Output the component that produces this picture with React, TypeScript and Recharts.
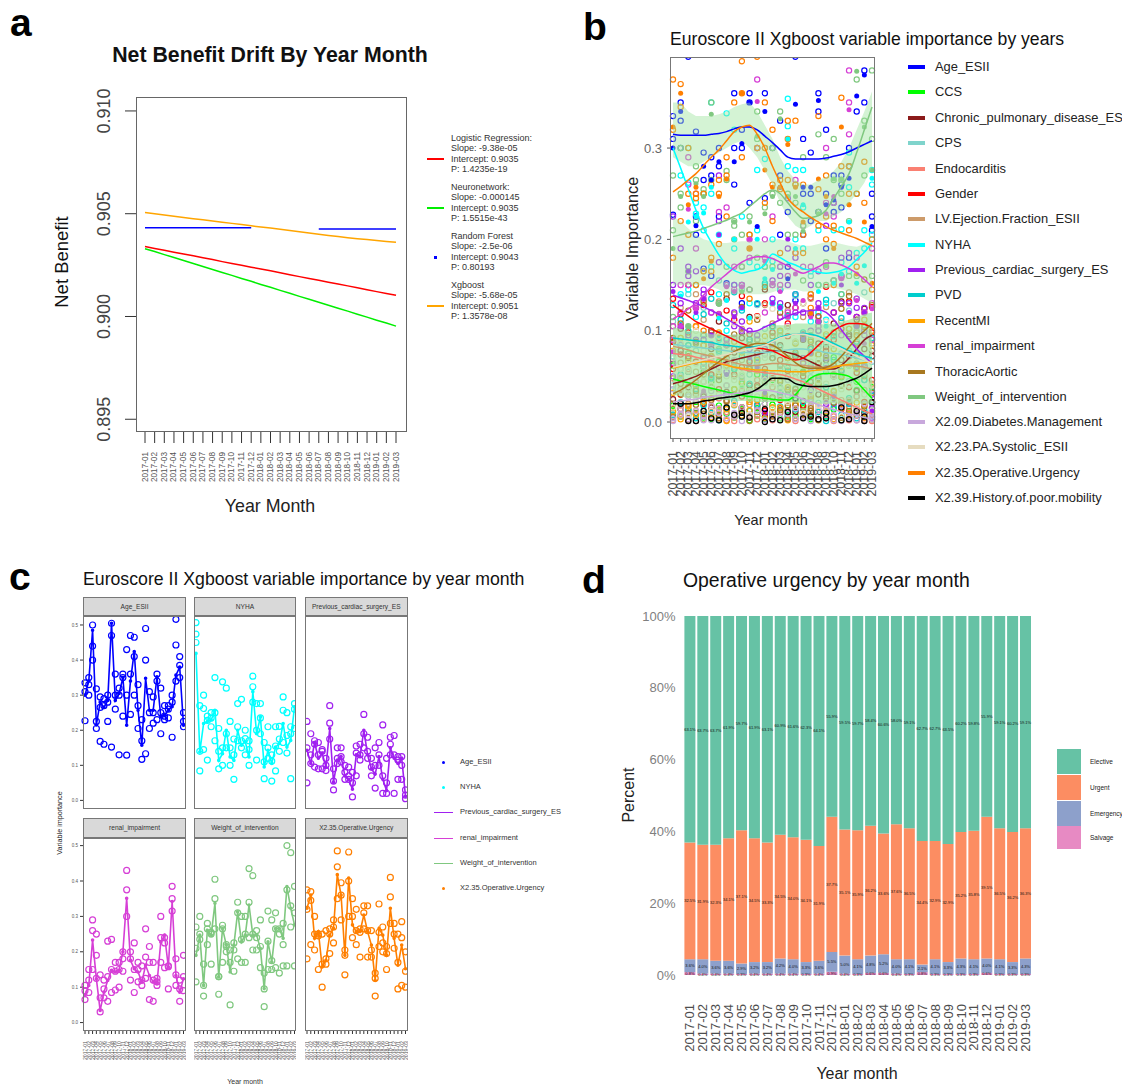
import React from "react";
import { LineChart, Line, XAxis, YAxis, ComposedChart, Area, BarChart, Bar, LabelList } from "recharts";

const FONT = '"Liberation Sans", Arial, sans-serif';
const months = ["2017-01","2017-02","2017-03","2017-04","2017-05","2017-06","2017-07","2017-08","2017-09","2017-10","2017-11","2017-12","2018-01","2018-02","2018-03","2018-04","2018-05","2018-06","2018-07","2018-08","2018-09","2018-10","2018-11","2018-12","2019-01","2019-02","2019-03"];

// ---------- panel a
const logistic = [0.9034,0.90331,0.90322,0.90313,0.90304,0.90295,0.90286,0.90277,0.90267,0.90258,0.90249,0.9024,0.90231,0.90222,0.90213,0.90203,0.90194,0.90185,0.90176,0.90167,0.90158,0.90149,0.9014,0.9013,0.90121,0.90112,0.90103];
const neuro = [0.9033,0.90316,0.90301,0.90287,0.90272,0.90258,0.90243,0.90229,0.90214,0.902,0.90185,0.90171,0.90156,0.90142,0.90127,0.90113,0.90098,0.90084,0.90069,0.90055,0.9004,0.90026,0.90011,0.89997,0.89982,0.89968,0.89953];
const forest1 = [0.90432,0.90432,0.90432,0.90432,0.90432,0.90432,0.90432,0.90432,0.90432,0.90432,0.90432,0.90432,null,null,null,null,null,null,null,null,null,null,null,null,null,null,null];
const forest2 = [null,null,null,null,null,null,null,null,null,null,null,null,null,null,null,null,null,null,0.90426,0.90426,0.90426,0.90426,0.90426,0.90426,0.90426,0.90426,0.90426];
const xgb = [0.90506,0.905,0.90494,0.90488,0.90482,0.90476,0.90471,0.90465,0.90459,0.90453,0.90447,0.90441,0.90435,0.9043,0.90424,0.90418,0.90412,0.90406,0.904,0.90394,0.90389,0.90383,0.90378,0.90374,0.9037,0.90365,0.90361];
const aTicks = [0.895, 0.9, 0.905, 0.91];
const aLegend = [
  ["Logistic Regression:","Slope: -9.38e-05","Intercept: 0.9035","P: 1.4235e-19"],
  ["Neuronetwork:","Slope: -0.000145","Intercept: 0.9035","P: 1.5515e-43"],
  ["Random Forest","Slope: -2.5e-06","Intercept: 0.9043","P: 0.80193"],
  ["Xgboost","Slope: -5.68e-05","Intercept: 0.9051","P: 1.3578e-08"],
];
const aColors = ["#ff0000", "#00ee00", "#0000ff", "#ffa500"];

const ageMean = [300,340,485,215,280,265,285,505,285,305,350,214,340,424,257,157,348,257,257,352,238,243,257,267,357,380,214];
const ageHi = [335,350,500,318,295,290,300,505,360,320,360,430,470,465,330,230,490,310,295,360,320,270,270,300,516,410,250];
const ageMid = [310,330,440,225,265,270,280,470,300,300,350,300,360,410,270,170,400,250,250,340,250,240,260,280,443,385,225];
const ageLo = [227,300,400,205,168,160,225,152,260,130,240,129,245,300,205,117,133,205,220,230,190,230,235,180,340,350,210];
const nyhaMean = [419,138,219,225,229,257,114,133,200,124,114,200,157,167,124,310,190,238,95,143,105,152,162,219,152,171,267];
const nyhaHi = [507,270,300,240,250,350,205,338,320,225,175,276,288,200,170,354,276,276,165,210,130,210,211,295,250,210,276];
const nyhaMid = [474,140,262,228,235,250,140,150,190,150,130,210,170,176,145,324,200,235,110,150,112,155,175,257,185,190,260];
const nyhaLo = [450,84,145,115,210,170,90,100,150,100,60,170,150,130,100,280,115,190,62,120,55,84,140,165,135,62,205];
const prevMean = [143,105,165,120,135,95,205,52,115,125,70,60,32,130,125,200,130,90,75,125,60,28,150,120,105,120,12];
const prevHi = [225,190,170,165,145,120,270,90,150,150,100,95,80,155,160,245,180,120,150,165,215,120,180,185,125,125,30];
const prevMid = [150,130,160,130,140,100,220,55,120,125,80,70,50,135,130,190,140,95,100,130,70,50,160,130,115,100,15];
const prevLo = [50,105,95,90,90,85,175,30,105,110,60,60,10,70,115,150,120,70,35,100,20,20,130,20,60,60,5];
const renalMean = [77,105,233,124,34,86,119,148,143,148,200,351,176,152,143,115,162,133,115,110,228,247,157,342,133,86,124];
const renalHi = [105,150,290,250,135,120,230,235,170,170,200,430,200,225,170,160,265,215,170,115,300,240,158,385,180,120,190];
const renalMid = [90,120,260,190,70,95,130,150,145,150,180,375,180,150,150,120,185,170,120,125,240,225,160,350,135,95,130];
const renalLo = [65,85,150,125,30,70,60,85,92,100,145,300,120,85,115,105,125,65,60,105,170,155,95,315,105,60,90];
const weightMean = [190,247,105,261,247,337,129,266,219,143,219,313,228,247,332,247,247,209,96,228,171,266,266,238,384,323,276];
const weightHi = [270,300,165,280,255,405,130,275,220,205,225,340,300,300,435,415,260,290,140,315,290,310,250,280,500,480,385];
const weightMid = [210,250,105,265,250,350,130,265,215,170,205,310,235,250,340,250,240,215,95,230,175,265,265,220,375,330,310];
const weightLo = [115,235,75,220,165,265,80,170,200,50,145,180,170,170,240,205,205,155,45,150,150,155,140,160,160,270,160];
const opMean = [323,360,238,257,157,176,247,266,418,360,190,408,276,257,257,304,257,219,119,266,247,190,323,238,162,219,152];
const opHi = [375,370,300,250,250,260,265,290,485,395,205,482,350,320,265,330,330,260,140,335,270,215,410,280,250,285,200];
const opMid = [320,345,250,245,165,180,250,270,440,360,190,400,300,260,255,310,260,205,125,255,225,195,355,250,170,240,145];
const opLo = [180,220,205,150,100,165,195,225,350,290,135,300,240,220,185,265,185,185,75,215,200,150,280,210,95,105,100];

const ccsA = [12,30,8,22,5,44,18,9,36,14,26,7,20,11,33,6,24,15,8,41,10,28,5,17,35,9,22];
const ccsB = [62,48,75,40,55,38,66,30,58,42,35,52,28,46,37,60,72,55,80,64,58,71,49,62,44,53,38];
const ccsC = [18,6,14,10,20,3,8,16,5,12,2,15,9,19,4,13,7,17,3,11,6,14,2,9,16,5,12];
const chrA = [25,14,38,9,28,16,7,33,20,12,40,18,6,27,15,35,11,23,8,30,13,26,19,5,34,10,21];
const chrB = [88,102,70,125,95,80,110,135,76,98,115,90,145,105,84,128,72,96,118,86,68,108,132,94,112,124,78];
const chrC = [64,78,55,88,60,72,50,84,66,92,58,76,48,86,62,70,54,90,44,74,82,52,68,96,60,80,72];
const cpsA = [40,22,55,31,12,47,26,60,18,35,52,24,43,16,58,29,37,13,49,21,62,33,17,45,28,54,19];
const cpsB = [110,92,140,78,125,98,155,84,118,145,88,128,102,150,82,115,138,95,160,105,86,130,75,122,100,142,90];
const cpsC = [72,58,84,66,96,50,76,92,60,80,68,90,54,74,98,62,86,70,56,82,94,64,52,78,88,46,66];
const endoA = [6,18,3,12,25,8,15,2,21,10,5,17,28,7,13,4,19,9,24,3,14,6,20,2,11,5,8];
const endoB = [48,36,58,30,44,52,26,40,62,34,22,46,55,38,28,50,33,42,25,36,18,30,24,15,28,20,12];
const endoC = [2,9,14,1,7,18,4,11,1,16,8,3,13,2,10,17,1,6,12,3,8,1,5,10,2,4,1];
const genA = [58,30,72,44,20,62,36,15,52,28,66,40,12,48,24,56,32,18,44,60,26,50,14,38,54,22,46];
const genB = [135,118,150,105,128,142,96,122,112,138,90,116,130,98,145,108,125,92,136,110,148,120,102,132,115,104,126];
const genC = [88,74,98,66,84,52,92,70,80,60,96,76,58,86,68,94,72,50,82,64,78,90,56,72,86,62,98];
const lvA = [48,65,30,55,72,38,60,24,50,68,34,58,44,26,62,36,54,70,28,46,32,52,40,22,64,35,42];
const lvB = [105,125,92,140,112,98,132,85,118,102,145,90,128,108,95,122,88,115,135,100,126,94,110,142,98,120,86];
const lvC = [15,6,20,9,3,17,11,22,5,13,19,7,2,16,10,21,4,12,18,8,14,3,19,6,11,2,15];
const pvdA = [70,52,84,36,64,48,78,28,58,72,42,66,54,86,32,60,74,44,80,50,38,68,56,26,62,46,34];
const pvdB = [128,112,100,150,118,135,96,108,142,122,90,130,152,104,126,116,140,98,120,110,134,94,114,102,88,106,92];
const pvdC = [8,21,13,4,18,10,2,15,23,6,12,19,3,9,17,7,14,22,5,11,1,16,8,20,4,13,6];
const recA = [32,48,18,40,60,26,52,14,36,44,22,56,30,16,46,38,20,54,28,42,12,34,50,24,58,18,40];
const recB = [78,92,66,105,84,72,98,62,88,76,110,68,94,82,100,70,86,64,90,74,96,80,60,102,72,112,84];
const recC = [11,3,17,8,22,5,14,1,19,7,13,24,4,10,16,2,20,9,6,18,12,3,15,8,21,5,10];
const thorA = [20,42,10,34,52,24,46,66,30,16,58,38,26,70,44,18,36,54,12,48,28,62,40,22,74,50,32];
const thorB = [92,108,122,86,132,100,118,140,96,126,84,112,148,94,120,104,76,130,88,116,72,98,124,138,106,156,128];
const thorC = [5,14,2,19,9,12,4,23,7,16,1,11,20,6,13,3,18,8,15,2,10,21,5,12,7,17,3];
const x209A = [4,14,8,24,2,18,10,28,6,16,32,12,20,3,26,9,15,5,22,7,13,2,17,4,11,1,6];
const x209B = [36,50,28,44,60,34,56,40,68,48,30,62,74,52,38,46,26,42,32,36,22,28,18,24,14,20,10];
const x209C = [1,8,3,12,6,2,15,4,10,1,7,13,2,9,5,11,3,6,1,14,4,8,1,5,2,7,3];
const x223A = [16,34,6,26,44,12,30,50,20,38,8,28,46,14,36,22,54,10,32,18,42,24,6,40,16,30,12];
const x223B = [70,86,56,100,78,66,94,60,108,82,72,115,90,124,76,104,88,130,98,68,110,84,74,64,92,58,80];
const x223C = [44,58,36,64,50,40,56,68,46,52,34,60,70,42,54,62,48,38,66,44,58,50,36,62,46,54,40];
const x239A = [null,null,1,null,null,4,null,null,8,null,5,null,null,3,null,11,null,null,6,null,4,null,null,3,null,6,null];
const x239B = [null,20,null,null,12,null,null,16,null,10,null,null,14,null,null,null,26,null,null,null,10,null,16,null,12,null,22];
const x239C = [null,null,null,1,null,null,2,null,null,6,null,null,0,null,2,null,null,4,null,3,null,null,2,null,null,1,null];

const ageSmooth = [315,314,314,314,314,315,316,318,321,323,323,320,313,306,298,290,288,288,288,288,289,291,293,296,300,304,308];
const ccsSmooth = [47,45,43,41,39,37,35,33,31,29,28,27,26,25,24,24,30,40,48,52,53,53,52,50,44,35,26];
const chrSmooth = [42,44,47,50,54,58,62,66,68,70,72,74,76,78,78,76,74,70,66,62,58,58,62,70,80,90,95];
const cpsSmooth = [85,84,83,82,81,80,79,78,77,76,76,76,76,77,78,79,80,80,79,78,76,75,74,72,70,68,65];
const endoSmooth = [75,74,73,71,69,67,65,63,60,58,56,55,54,53,52,50,47,44,40,36,32,28,24,20,16,12,9];
const genSmooth = [128,122,116,110,106,102,98,94,90,86,83,81,80,78,74,70,68,70,76,84,92,100,105,108,108,107,103];
const lvSmooth = [83,81,79,76,74,72,70,68,65,63,62,62,63,64,64,63,62,62,61,60,60,61,62,62,61,60,58];
const nyhaSmooth = [300,278,255,232,212,197,183,172,166,163,165,167,172,184,180,175,172,168,166,164,163,164,166,170,178,186,196];
const prevSmooth = [139,136,133,130,126,122,118,113,108,103,99,100,104,108,112,116,119,121,122,123,120,112,101,90,80,72,64];
const pvdSmooth = [92,91,90,89,88,87,85,84,83,82,82,83,85,89,93,95,96,97,96,94,90,86,82,78,75,72,70];
const recSmooth = [59,61,63,65,66,66,64,62,60,59,58,57,57,56,56,55,55,55,56,57,58,60,62,63,64,65,66];
const renalSmooth = [113,118,124,130,139,148,155,162,169,175,179,181,181,179,175,171,166,163,166,170,174,174,172,168,163,156,148];
const thorSmooth = [31,35,40,46,53,60,66,72,77,81,84,86,86,84,79,72,65,60,59,59,60,64,72,82,92,100,108];
const weightSmooth = [203,205,207,209,212,215,218,221,225,229,236,243,250,254,250,240,230,223,224,226,232,245,258,272,295,320,345];
const x209Smooth = [22,23,24,25,27,28,29,30,31,32,33,34,35,34,32,30,28,25,22,19,16,14,11,9,7,5,3];
const x223Smooth = [60,62,64,66,68,70,72,74,76,78,80,82,84,88,92,94,96,96,94,92,88,84,80,76,72,68,64];
const opSmooth = [252,258,265,272,281,290,298,308,318,323,325,315,300,280,262,245,236,230,224,219,214,210,207,204,201,197,193];
const x239Smooth = [20,20,20,21,23,24,26,27,28,30,32,36,42,48,48,47,42,40,39,39,39,40,42,45,48,53,59];

const band1Hi = [350,350,340,335,335,335,337,340,345,348,350,340,325,310,290,275,265,260,260,265,268,275,285,300,320,340,362];
const band1Lo = [290,285,280,280,285,290,295,300,305,308,300,290,275,260,240,225,215,210,215,220,220,225,230,240,250,262,280];
const band2Hi = [225,220,212,205,200,198,196,196,197,198,198,198,198,200,200,198,195,193,193,195,197,197,195,193,192,195,200];
const band2Lo = [150,150,150,150,150,148,145,140,140,140,140,140,140,142,145,145,145,143,143,145,147,147,145,143,140,135,130];
const band3Hi = [104,102,100,100,98,96,96,95,96,96,98,100,102,106,106,106,108,108,108,107,107,108,110,112,115,118,120];
const band3Lo = [30,28,26,26,25,24,24,24,23,23,23,22,22,22,22,22,21,21,20,20,20,20,20,20,20,20,20];

const bSeries = [
  { name: "Age_ESII", color: "#0000ff", smooth: ageSmooth, draws: [ageHi, ageMid, ageLo], filled: ageMean },
  { name: "CCS", color: "#00ff00", smooth: ccsSmooth, draws: [ccsA, ccsB, ccsC] },
  { name: "Chronic_pulmonary_disease_ES", color: "#8b1a1a", smooth: chrSmooth, draws: [chrA, chrB, chrC] },
  { name: "CPS", color: "#7fd4cc", smooth: cpsSmooth, draws: [cpsA, cpsB, cpsC] },
  { name: "Endocarditis", color: "#fa8072", smooth: endoSmooth, draws: [endoA, endoB, endoC] },
  { name: "Gender", color: "#ff0000", smooth: genSmooth, draws: [genA, genB, genC] },
  { name: "LV.Ejection.Fraction_ESII", color: "#cd9b6a", smooth: lvSmooth, draws: [lvA, lvB, lvC] },
  { name: "NYHA", color: "#00ffff", smooth: nyhaSmooth, draws: [nyhaHi, nyhaMid, nyhaLo], filled: nyhaMean },
  { name: "Previous_cardiac_surgery_ES", color: "#a020f0", smooth: prevSmooth, draws: [prevHi, prevMid, prevLo], filled: prevMean },
  { name: "PVD", color: "#00cdcd", smooth: pvdSmooth, draws: [pvdA, pvdB, pvdC] },
  { name: "RecentMI", color: "#ffa500", smooth: recSmooth, draws: [recA, recB, recC] },
  { name: "renal_impairment", color: "#d63fd6", smooth: renalSmooth, draws: [renalHi, renalMid, renalLo], filled: renalMean },
  { name: "ThoracicAortic", color: "#a87820", smooth: thorSmooth, draws: [thorA, thorB, thorC] },
  { name: "Weight_of_intervention", color: "#80c880", smooth: weightSmooth, draws: [weightHi, weightMid, weightLo], filled: weightMean },
  { name: "X2.09.Diabetes.Management", color: "#c8a8dc", smooth: x209Smooth, draws: [x209A, x209B, x209C] },
  { name: "X2.23.PA.Systolic_ESII", color: "#e6dcc0", smooth: x223Smooth, draws: [x223A, x223B, x223C] },
  { name: "X2.35.Operative.Urgency", color: "#ff7f00", smooth: opSmooth, draws: [opHi, opMid, opLo], filled: opMean },
  { name: "X2.39.History.of.poor.mobility", color: "#000000", smooth: x239Smooth, draws: [x239A, x239B, x239C] },
];
const bLegendY = [67,92,118,143,169,194,219,245,270,295,321,346,372,397,422,447,473,498];
const bTicks = [0, 0.1, 0.2, 0.3];

const bData = months.map((m, i) => {
  const row: any = { m, band1: [band1Lo[i] / 1000, band1Hi[i] / 1000], band2: [band2Lo[i] / 1000, band2Hi[i] / 1000], band3: [band3Lo[i] / 1000, band3Hi[i] / 1000] };
  bSeries.forEach((s, k) => {
    row[`s${k}`] = s.smooth[i] / 1000;
    s.draws.forEach((d, j) => { row[`d${k}_${j}`] = d[i] == null ? null : (d[i] as number) / 1000; });
    if (s.filled) row[`f${k}`] = s.filled[i] / 1000;
  });
  return row;
});

// ---------- panel c
const facets = [
  { name: "Age_ESII", color: "#0000ff", mean: ageMean, hi: ageHi, mid: ageMid, lo: ageLo },
  { name: "NYHA", color: "#00ffff", mean: nyhaMean, hi: nyhaHi, mid: nyhaMid, lo: nyhaLo },
  { name: "Previous_cardiac_surgery_ES", color: "#a020f0", mean: prevMean, hi: prevHi, mid: prevMid, lo: prevLo },
  { name: "renal_impairment", color: "#d63fd6", mean: renalMean, hi: renalHi, mid: renalMid, lo: renalLo },
  { name: "Weight_of_intervention", color: "#80c880", mean: weightMean, hi: weightHi, mid: weightMid, lo: weightLo },
  { name: "X2.35.Operative.Urgency", color: "#ff7f00", mean: opMean, hi: opHi, mid: opMid, lo: opLo },
];
const cTicks = [0, 0.1, 0.2, 0.3, 0.4, 0.5];
const facetX = [83.3, 193.7, 305];
const facetW = 102.5;
const cLegendY = [762, 787, 812, 838, 863, 888];
const cLegendKind = ["dot", "dot", "line", "line", "line", "dot"];

// ---------- panel d
const salvage = [0.8,0.4,0.4,0.4,0.3,0.4,0.4,0.4,0.4,0.3,0.4,0.9,0.4,0.3,0.6,0.6,0.4,0.3,0.8,0.3,0.3,0.3,0.3,0.6,0.3,0.3,0.3];
const emergency = [3.6,4.0,3.6,3.6,2.9,3.2,3.2,4.2,4.0,3.3,3.6,5.5,5.0,4.1,4.8,5.2,4.0,4.1,2.1,4.1,3.3,4.3,4.1,4.0,4.1,3.3,4.3];
const urgent = [32.5,31.9,32.3,34.1,37.1,34.5,33.3,34.5,34.0,34.1,31.9,37.7,35.1,35.9,36.2,33.6,37.6,36.5,34.4,32.9,32.9,35.2,35.8,39.5,36.5,36.2,36.3];
const elective = [63.1,63.7,63.7,61.9,59.7,61.9,63.1,60.9,61.6,62.3,64.1,55.9,59.5,59.7,58.4,60.6,58.0,59.1,62.7,62.7,63.5,60.2,59.8,55.9,59.1,60.2,59.1];
const dData = months.map((m, i) => ({ m, salvage: salvage[i], emergency: emergency[i], urgent: urgent[i], elective: elective[i] }));
const dKeys = [
  { key: "salvage", name: "Salvage", color: "#e78ac3" },
  { key: "emergency", name: "Emergency", color: "#8da0cb" },
  { key: "urgent", name: "Urgent", color: "#fc8d62" },
  { key: "elective", name: "Elective", color: "#66c2a5" },
];
const dLegend = [
  { name: "Elective", color: "#66c2a5", top: 749, h: 25 },
  { name: "Urgent", color: "#fc8d62", top: 775, h: 25 },
  { name: "Emergency", color: "#8da0cb", top: 801, h: 25 },
  { name: "Salvage", color: "#e78ac3", top: 826, h: 23 },
];
const dTicks = [0, 20, 40, 60, 80, 100];

const aData = months.map((m, i) => ({ m, logistic: logistic[i], neuro: neuro[i], forest1: forest1[i], forest2: forest2[i], xgb: xgb[i] }));

const RotX = (fs: number, fill: string, gap: number) => (p: any) => (
  <text x={p.x} y={p.y + gap} transform={`rotate(-90 ${p.x} ${p.y + gap})`} textAnchor="end" dominantBaseline="central" fontSize={fs} fill={fill} fontFamily={FONT}>{p.payload.value}</text>
);
const RotY = (p: any) => (
  <text x={p.x - 13} y={p.y} transform={`rotate(-90 ${p.x - 13} ${p.y})`} textAnchor="middle" fontSize={18} fill="#444" fontFamily={FONT}>{Number(p.payload.value).toFixed(3)}</text>
);
const PctTick = (p: any) => (
  <text x={p.x} y={p.y} textAnchor="end" dominantBaseline="central" fontSize={13} fill="#7f7f7f" fontFamily={FONT}>{`${p.payload.value}%`}</text>
);

const T = ({ x, y, s, fs, w, c, rot, center, bold }: any) => (
  <div style={{ position: "absolute", left: x, top: y, fontSize: fs, lineHeight: 1, color: c || "#111", fontFamily: FONT, whiteSpace: "nowrap", fontWeight: bold ? 700 : 400, width: w, transform: `translate(${center ? "-50%" : "0"},-50%) ${rot ? "rotate(-90deg)" : ""}` }}>{s}</div>
);

const Facet = ({ f, col, row }: any) => {
  const left = facetX[col];
  const strip = row === 0 ? 597.3 : 818.3;
  const plotTop = row === 0 ? 616 : 838;
  const plotH = 193;
  const yw = col === 0 ? 20 : 0;
  const xh = row === 1 ? 36 : 0;
  const data = months.map((m, i) => ({ m, mean: f.mean[i] / 1000, hi: f.hi[i] / 1000, mid: f.mid[i] / 1000, lo: f.lo[i] / 1000 }));
  const dotP = { r: 3, fill: "none", stroke: f.color, strokeWidth: 1.2 };
  return (
    <>
      <div style={{ position: "absolute", left, top: strip, width: facetW, height: plotTop - strip, boxSizing: "border-box", background: "#d9d9d9", border: "1px solid #777", fontSize: 6.6, lineHeight: "17px", textAlign: "center", fontFamily: FONT, color: "#333", whiteSpace: "nowrap", overflow: "hidden" }}>{f.name}</div>
      <div style={{ position: "absolute", left: left - yw, top: plotTop }}>
        <LineChart width={facetW + yw} height={plotH + xh} data={data} margin={{ top: 0, right: 0, bottom: 0, left: 0 }}>
          <XAxis dataKey="m" scale="point" interval={0} padding={{ left: 2, right: 2 }} height={xh} hide={row === 0} tickLine={{ stroke: "#333" }} tickSize={3} axisLine={false} tick={RotX(5.2, "#555", 5)} />
          <YAxis width={yw} hide={col !== 0} interval={0} domain={row === 0 ? [-0.0245, 0.5256] : [-0.0238, 0.5215]} ticks={cTicks} allowDataOverflow axisLine={false} tickLine={{ stroke: "#333" }} tickSize={3} tick={{ fontSize: 4.5, fill: "#555", fontFamily: FONT }} tickFormatter={(v: number) => v.toFixed(1)} />
          <Line dataKey="hi" stroke="none" dot={dotP} legendType="none" isAnimationActive={false} />
          <Line dataKey="mid" stroke="none" dot={dotP} legendType="none" isAnimationActive={false} />
          <Line dataKey="lo" stroke="none" dot={dotP} legendType="none" isAnimationActive={false} />
          <Line dataKey="mean" stroke={f.color} strokeWidth={1.6} dot={{ r: 1, fill: f.color, stroke: f.color }} isAnimationActive={false} />
        </LineChart>
      </div>
      <div style={{ position: "absolute", left, top: plotTop, width: facetW, height: plotH, boxSizing: "border-box", border: "1px solid #777", borderRight: "1.5px solid #777", pointerEvents: "none" }} />
    </>
  );
};

export default function App() {
  return (
    <div style={{ position: "absolute", left: 0, top: 0, width: 1122, height: 1085, background: "#fff", overflow: "hidden", fontFamily: FONT }}>
      <T x={10} y={22} s="a" fs={39} bold c="#000" />
      <T x={583} y={26} s="b" fs={39} bold c="#000" />
      <T x={9} y={576} s="c" fs={39} bold c="#000" />
      <T x={582} y={579} s="d" fs={39} bold c="#000" />

      {/* panel a */}
      <T x={270} y={56} s="Net Benefit Drift By Year Month" fs={21.3} bold center c="#111" />
      <T x={62} y={262} s="Net Benefit" fs={18.5} center rot />
      <T x={270} y={507} s="Year Month" fs={17.8} center c="#222" />
      <div style={{ position: "absolute", left: 66, top: 77.7 }}>
        <LineChart width={340} height={20 + 334 + 64} data={aData} margin={{ top: 20, right: 0, bottom: 0, left: 0 }}>
          <XAxis dataKey="m" scale="point" interval={0} height={64} padding={{ left: 9, right: 10 }} axisLine={false} tickSize={11} tickLine={{ stroke: "#333" }} tick={RotX(8.2, "#555", 7)} />
          <YAxis width={70} interval={0} domain={[0.89438, 0.91063]} ticks={aTicks} allowDataOverflow axisLine={false} tickSize={11} tickLine={{ stroke: "#333" }} tick={RotY} />
          <Line dataKey="logistic" stroke={aColors[0]} strokeWidth={1.5} dot={false} isAnimationActive={false} />
          <Line dataKey="neuro" stroke={aColors[1]} strokeWidth={1.5} dot={false} isAnimationActive={false} />
          <Line dataKey="forest1" stroke={aColors[2]} strokeWidth={1.5} dot={false} isAnimationActive={false} />
          <Line dataKey="forest2" stroke={aColors[2]} strokeWidth={1.5} dot={false} isAnimationActive={false} />
          <Line dataKey="xgb" stroke={aColors[3]} strokeWidth={1.5} dot={false} isAnimationActive={false} />
        </LineChart>
      </div>
      <div style={{ position: "absolute", left: 135.5, top: 97, width: 271, height: 335, boxSizing: "border-box", border: "1.5px solid #666", pointerEvents: "none" }} />
      {aLegend.map((lines, k) => (
        <React.Fragment key={k}>
          {lines.map((l, j) => <T key={j} x={451} y={138 + k * 49 + j * 10.3} s={l} fs={9} c="#333" />)}
          {k === 2
            ? <div style={{ position: "absolute", left: 434, top: 256, width: 3, height: 3, background: aColors[2] }} />
            : <div style={{ position: "absolute", left: 427, top: Math.round(158 + k * 49), width: 17, height: 2, background: aColors[k] }} />}
        </React.Fragment>
      ))}

      {/* panel b */}
      <T x={670} y={40} s="Euroscore II Xgboost variable importance by years" fs={17.6} c="#111" />
      <T x={632} y={249} s="Variable Importance" fs={16.3} center rot c="#222" />
      <T x={771} y={520} s="Year month" fs={14.5} center c="#222" />
      <div style={{ position: "absolute", left: 630, top: 57 }}>
        <ComposedChart width={255} height={382 + 66} data={bData} margin={{ top: 0, right: 10, bottom: 0, left: 0 }}>
          <XAxis dataKey="m" scale="point" interval={0} height={66} padding={{ left: 3, right: 3 }} axisLine={false} tickSize={3} tickLine={{ stroke: "#555" }} tick={RotX(12.4, "#4d4d4d", 7)} />
          <YAxis width={40} interval={0} domain={[-0.0186, 0.3997]} ticks={bTicks} allowDataOverflow axisLine={false} tickSize={3} tickMargin={5} tickLine={{ stroke: "#555" }} tick={{ fontSize: 13, fill: "#666", fontFamily: FONT }} tickFormatter={(v: number) => v.toFixed(1)} />
          {bSeries.flatMap((s, k) => s.draws.map((_, j) => (
            <Line key={`d${k}_${j}`} dataKey={`d${k}_${j}`} stroke="none" connectNulls={false} dot={{ r: 2.6, fill: "none", stroke: s.color, strokeWidth: 1.2 }} isAnimationActive={false} />
          )))}
          {bSeries.filter((s) => s.filled).map((s) => {
            const k = bSeries.indexOf(s);
            return <Line key={`f${k}`} dataKey={`f${k}`} stroke="none" dot={{ r: 2.5, fill: s.color, stroke: s.color, strokeWidth: 0 }} isAnimationActive={false} />;
          })}
          <Area dataKey="band1" stroke="none" fill="#a0e4a0" fillOpacity={0.45} zIndex={900} isAnimationActive={false} />
          <Area dataKey="band2" stroke="none" fill="#a0e4a0" fillOpacity={0.4} zIndex={900} isAnimationActive={false} />
          <Area dataKey="band3" stroke="none" fill="#9fe49f" fillOpacity={0.68} zIndex={900} isAnimationActive={false} />
          {bSeries.map((s, k) => (
            <Line key={`s${k}`} dataKey={`s${k}`} stroke={s.color} strokeWidth={1.5} dot={false} type="monotone" zIndex={950} isAnimationActive={false} />
          ))}
        </ComposedChart>
      </div>
      <div style={{ position: "absolute", left: 670, top: 57, width: 205, height: 382, boxSizing: "border-box", border: "1px solid #777", pointerEvents: "none" }} />
      {bSeries.map((s, k) => (
        <React.Fragment key={k}>
          <div style={{ position: "absolute", left: 908, top: bLegendY[k] - 2, width: 17, height: 4, background: s.color }} />
          <T x={935} y={bLegendY[k]} s={s.name} fs={12.9} c="#222" />
        </React.Fragment>
      ))}

      {/* panel c */}
      <T x={83} y={580} s="Euroscore II Xgboost variable importance by year month" fs={17.7} c="#111" />
      <T x={60} y={823} s="Variable importance" fs={7.2} center rot c="#222" />
      <T x={245} y={1081} s="Year month" fs={7} center c="#333" />
      {facets.map((f, i) => <Facet key={f.name} f={f} col={i % 3} row={Math.floor(i / 3)} />)}
      {facets.map((f, i) => (
        <React.Fragment key={f.name}>
          {cLegendKind[i] === "dot"
            ? <div style={{ position: "absolute", left: 442, top: cLegendY[i] - 1, width: 2.5, height: 2.5, borderRadius: 2, background: f.color }} />
            : <div style={{ position: "absolute", left: 434, top: cLegendY[i] - 0.5, width: 19, height: 1.5, background: f.color }} />}
          <T x={460} y={cLegendY[i]} s={f.name} fs={7.5} c="#333" />
        </React.Fragment>
      ))}

      {/* panel d */}
      <T x={683} y={581} s="Operative urgency by year month" fs={19.4} c="#111" />
      <T x={629} y={795} s="Percent" fs={16} center rot c="#222" />
      <T x={857} y={1074} s="Year month" fs={16} center c="#222" />
      <div style={{ position: "absolute", left: 633, top: 600 }}>
        <BarChart width={399} height={16 + 359 + 80} data={dData} margin={{ top: 16, right: 0, bottom: 0, left: 0 }} barCategoryGap="7%">
          <XAxis dataKey="m" interval={0} height={80} axisLine={false} tickLine={false} tick={RotX(13, "#4d4d4d", 21)} />
          <YAxis width={50.5} interval={0} domain={[0, 100]} ticks={dTicks} axisLine={false} tickLine={false} tick={PctTick} />
          {dKeys.map((d) => (
            <Bar key={d.key} dataKey={d.key} stackId="a" fill={d.color} isAnimationActive={false}>
              <LabelList dataKey={d.key} position="center" fontSize={4} fill="#111" fontFamily={FONT} formatter={(v: number) => `${v.toFixed(1)}%`} />
            </Bar>
          ))}
        </BarChart>
      </div>
      {dLegend.map((d) => (
        <React.Fragment key={d.name}>
          <div style={{ position: "absolute", left: 1057, top: d.top, width: 24, height: d.h, background: d.color }} />
          <T x={1090} y={d.top + d.h / 2} s={d.name} fs={6.5} c="#222" />
        </React.Fragment>
      ))}
    </div>
  );
}
